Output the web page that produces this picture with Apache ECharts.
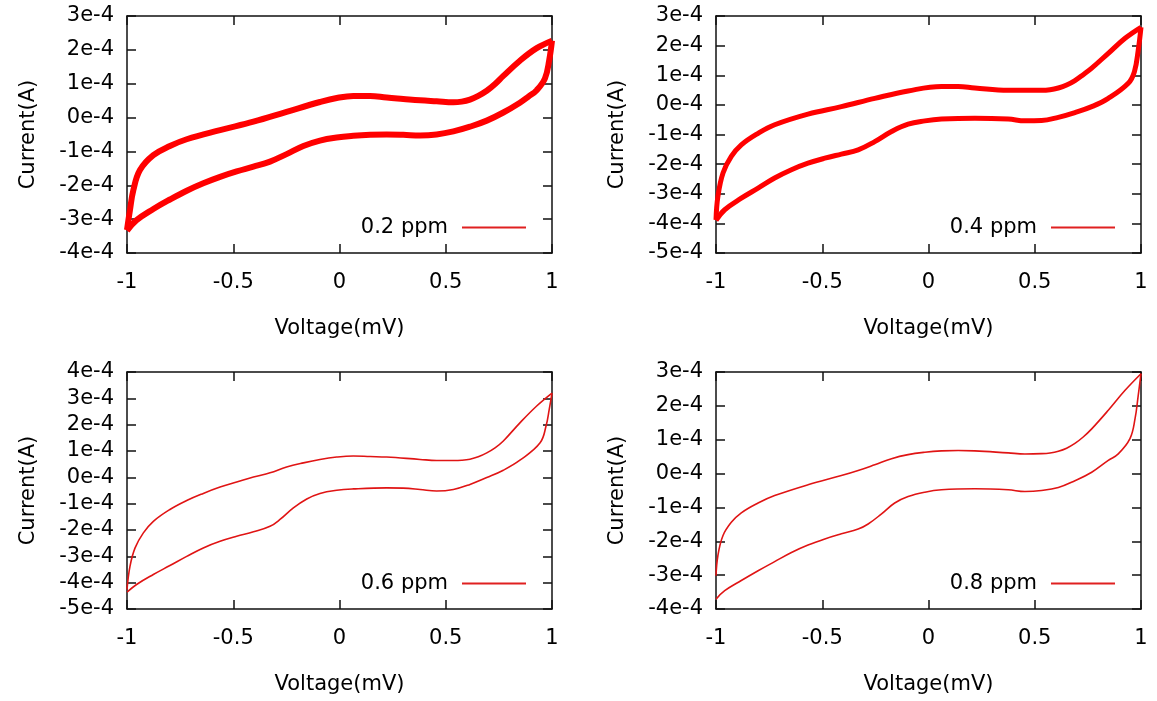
<!DOCTYPE html>
<html>
<head>
<meta charset="utf-8">
<script src="https://cdn.jsdelivr.net/npm/echarts@6/dist/echarts.min.js"></script>
<style>
html,body{margin:0;padding:0;background:#fff;}
#chart{width:1157px;height:701px;}
</style>
</head>
<body>
<div id="chart"></div>
<script>
// Sample labels (legend)
const samples = ['0.2 ppm', '0.4 ppm', '0.6 ppm', '0.8 ppm'];
// Y-axis ranges in units of 1e-4 A
const yMin = [-4, -5, -5, -4];
const yMax = [3, 3, 4, 3];

// Forward sweep (-1 -> 1), voltage (mV) and current (1e-4 A)
const fwdV_02 = [-1.0, -0.986, -0.970, -0.939, -0.876, -0.798, -0.719, -0.562, -0.405, -0.249, -0.092, -0.013, 0.065, 0.144, 0.222, 0.300, 0.379, 0.457, 0.536, 0.575, 0.614, 0.653, 0.693, 0.732, 0.771, 0.849, 0.928, 1.0];
const fwdI_02 = [-3.32, -2.73, -2.14, -1.55, -1.11, -0.84, -0.64, -0.37, -0.12, 0.17, 0.46, 0.58, 0.64, 0.64, 0.59, 0.55, 0.51, 0.48, 0.45, 0.47, 0.53, 0.64, 0.79, 0.99, 1.23, 1.68, 2.05, 2.27];
// Reverse sweep (1 -> -1)
const revV_02 = [1.0, 0.987, 0.967, 0.928, 0.889, 0.849, 0.771, 0.693, 0.614, 0.536, 0.457, 0.379, 0.300, 0.222, 0.144, 0.065, -0.013, -0.092, -0.170, -0.249, -0.327, -0.405, -0.484, -0.562, -0.641, -0.719, -0.798, -0.876, -0.955, -1.0];
const revI_02 = [2.27, 1.70, 1.16, 0.81, 0.62, 0.44, 0.15, -0.09, -0.27, -0.41, -0.50, -0.53, -0.51, -0.50, -0.51, -0.54, -0.59, -0.68, -0.84, -1.08, -1.30, -1.45, -1.59, -1.75, -1.94, -2.16, -2.42, -2.70, -3.03, -3.34];

const fwdV_04 = [-1.0, -0.991, -0.967, -0.928, -0.881, -0.802, -0.724, -0.567, -0.410, -0.253, -0.096, 0.061, 0.140, 0.218, 0.375, 0.532, 0.572, 0.611, 0.650, 0.689, 0.728, 0.768, 0.846, 0.925, 1.0];
const fwdI_04 = [-3.88, -3.09, -2.30, -1.74, -1.35, -0.96, -0.67, -0.31, -0.06, 0.22, 0.47, 0.62, 0.62, 0.57, 0.49, 0.49, 0.51, 0.57, 0.67, 0.82, 1.02, 1.24, 1.74, 2.25, 2.62];
const revV_04 = [1.0, 0.987, 0.969, 0.940, 0.846, 0.768, 0.689, 0.611, 0.532, 0.454, 0.375, 0.218, 0.061, -0.017, -0.096, -0.174, -0.253, -0.331, -0.410, -0.488, -0.567, -0.645, -0.724, -0.802, -0.881, -0.959, -1.0];
const revI_04 = [2.62, 1.85, 1.12, 0.73, 0.22, -0.06, -0.26, -0.42, -0.53, -0.54, -0.48, -0.45, -0.48, -0.54, -0.65, -0.90, -1.24, -1.52, -1.66, -1.80, -1.97, -2.19, -2.47, -2.81, -3.15, -3.54, -3.90];

const fwdV_06 = [-1.0, -0.986, -0.962, -0.923, -0.876, -0.798, -0.719, -0.641, -0.562, -0.484, -0.405, -0.327, -0.249, -0.170, -0.092, -0.013, 0.065, 0.144, 0.222, 0.379, 0.457, 0.536, 0.575, 0.614, 0.653, 0.693, 0.732, 0.771, 0.849, 0.928, 1.0];
const fwdI_06 = [-4.26, -3.38, -2.68, -2.11, -1.67, -1.22, -0.88, -0.61, -0.37, -0.18, 0.01, 0.17, 0.39, 0.55, 0.68, 0.77, 0.81, 0.79, 0.77, 0.68, 0.64, 0.64, 0.65, 0.69, 0.78, 0.93, 1.12, 1.38, 2.07, 2.71, 3.20];
const revV_06 = [1.0, 0.987, 0.972, 0.944, 0.849, 0.771, 0.693, 0.614, 0.536, 0.457, 0.379, 0.300, 0.222, 0.065, -0.013, -0.092, -0.154, -0.217, -0.280, -0.327, -0.405, -0.484, -0.562, -0.641, -0.719, -0.798, -0.876, -0.955, -1.0];
const revI_06 = [3.20, 2.58, 1.95, 1.31, 0.65, 0.27, -0.01, -0.27, -0.46, -0.52, -0.46, -0.41, -0.40, -0.44, -0.49, -0.61, -0.82, -1.16, -1.60, -1.86, -2.07, -2.24, -2.43, -2.68, -3.00, -3.35, -3.69, -4.07, -4.36];

const fwdV_08 = [-1.0, -0.991, -0.967, -0.928, -0.881, -0.802, -0.724, -0.567, -0.410, -0.331, -0.253, -0.174, -0.096, -0.017, 0.061, 0.140, 0.218, 0.375, 0.454, 0.532, 0.572, 0.611, 0.650, 0.689, 0.728, 0.768, 0.846, 0.925, 1.0];
const fwdI_08 = [-3.02, -2.42, -1.83, -1.44, -1.16, -0.87, -0.65, -0.33, -0.06, 0.09, 0.26, 0.44, 0.56, 0.63, 0.67, 0.68, 0.67, 0.61, 0.58, 0.59, 0.61, 0.66, 0.75, 0.89, 1.08, 1.32, 1.87, 2.46, 2.95];
const revV_08 = [1.0, 0.987, 0.972, 0.948, 0.893, 0.846, 0.768, 0.689, 0.611, 0.532, 0.454, 0.375, 0.218, 0.061, -0.017, -0.096, -0.159, -0.221, -0.284, -0.331, -0.410, -0.488, -0.567, -0.645, -0.724, -0.802, -0.881, -0.959, -1.0];
const revI_08 = [2.95, 2.31, 1.62, 1.03, 0.58, 0.39, 0.04, -0.21, -0.41, -0.50, -0.53, -0.48, -0.45, -0.48, -0.55, -0.68, -0.87, -1.19, -1.49, -1.64, -1.78, -1.93, -2.11, -2.33, -2.60, -2.87, -3.16, -3.46, -3.71];

const sweeps = [
  [fwdV_02, fwdI_02, revV_02, revI_02],
  [fwdV_04, fwdI_04, revV_04, revI_04],
  [fwdV_06, fwdI_06, revV_06, revI_06],
  [fwdV_08, fwdI_08, revV_08, revI_08]
];

const zip = (a, b) => a.map((v, k) => [v, b[k]]);

const FONT = 'DejaVu Sans';
const FS = 21;
const gridPos = [
  {left: 127, top: 16},
  {left: 716, top: 16},
  {left: 127, top: 372},
  {left: 716, top: 372}
];
const lineWidths = [6, 5, 1.6, 1.6];
const lineColors = ['#ff0000', '#ff0000', '#e01414', '#e01414'];

const grids = [], xAxes = [], yAxes = [], series = [], legends = [];
const axisLineStyle = {show: true, onZero: false, lineStyle: {color: '#111', width: 1.5}};
const tickStyle = {show: true, inside: true, length: 9, lineStyle: {color: '#111', width: 1.5}};

for (let p = 0; p < 4; p++) {
  grids.push({left: gridPos[p].left, top: gridPos[p].top, width: 425, height: 237, containLabel: false});
  // bottom x
  xAxes.push({
    type: 'value', gridIndex: p, position: 'bottom', min: -1, max: 1, interval: 0.5,
    axisLine: axisLineStyle, axisTick: tickStyle, splitLine: {show: false},
    axisLabel: {show: true, margin: 19, color: '#000', fontFamily: FONT, fontSize: FS},
    name: 'Voltage(mV)', nameLocation: 'middle', nameGap: 65,
    nameTextStyle: {color: '#000', fontFamily: FONT, fontSize: FS}
  });
  // top mirror x
  xAxes.push({
    type: 'value', gridIndex: p, position: 'top', min: -1, max: 1, interval: 0.5,
    axisLine: axisLineStyle, axisTick: tickStyle, splitLine: {show: false},
    axisLabel: {show: false}
  });
  // left y
  yAxes.push({
    type: 'value', gridIndex: p, position: 'left', min: yMin[p], max: yMax[p], interval: 1,
    axisLine: axisLineStyle, axisTick: tickStyle, splitLine: {show: false},
    axisLabel: {show: true, margin: 13, color: '#000', fontFamily: FONT, fontSize: FS,
      formatter: v => Math.round(v) + 'e-4'},
    name: 'Current(A)', nameLocation: 'middle', nameRotate: 90, nameGap: 88,
    nameTextStyle: {color: '#000', fontFamily: FONT, fontSize: FS}
  });
  // right mirror y
  yAxes.push({
    type: 'value', gridIndex: p, position: 'right', min: yMin[p], max: yMax[p], interval: 1,
    axisLine: axisLineStyle, axisTick: tickStyle, splitLine: {show: false},
    axisLabel: {show: false}
  });
  const [fv, fi, rv, ri] = sweeps[p];
  const common = {
    type: 'line', name: samples[p], xAxisIndex: 2 * p, yAxisIndex: 2 * p,
    showSymbol: false, symbol: 'none', smooth: 0.4, color: lineColors[p],
    lineStyle: {color: lineColors[p], width: lineWidths[p]}, animation: false, silent: true
  };
  series.push(Object.assign({}, common, {data: zip(fv, fi)}));
  series.push(Object.assign({}, common, {data: zip(rv, ri)}));
  legends.push({
    data: [{name: samples[p], icon: 'rect'}],
    align: 'right', orient: 'horizontal',
    right: 1157 - (gridPos[p].left + 399),
    top: gridPos[p].top + 201,
    padding: 0,
    itemWidth: 64, itemHeight: 2,
    selectedMode: false,
    textStyle: {color: '#000', fontFamily: FONT, fontSize: FS, padding: [0, 9, 0, 0]},
    itemStyle: {color: '#e02020'}
  });
}

const chart = echarts.init(document.getElementById('chart'), null, {renderer: 'canvas'});
chart.setOption({
  backgroundColor: '#fff',
  animation: false,
  grid: grids, xAxis: xAxes, yAxis: yAxes, series: series, legend: legends
});
</script>
</body>
</html>
